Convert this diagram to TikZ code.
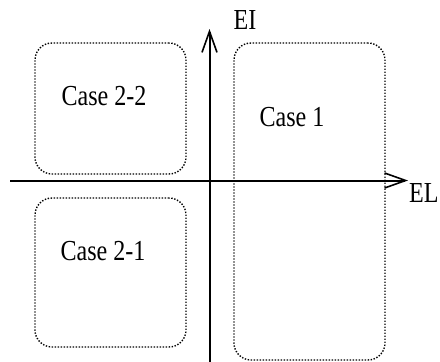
\documentclass[tikz,border=0pt]{standalone}
\usepackage{fontspec}
\setmainfont{Liberation Serif}
\usetikzlibrary{arrows.meta}
\newcommand{\slim}[1]{\scalebox{0.83}[1]{#1}}

\begin{document}
\begin{tikzpicture}[%
  x=1pt, y=-1pt,
  casebox/.style={draw, line width=1.4pt, dash pattern=on 1.4pt off 1.6pt,
    rounded corners=17pt, inner sep=0pt, minimum width=151pt},
  axis/.style={line width=2pt, -{Straight Barb[length=21pt,width=15pt,line width=1.6pt]}},
  clabel/.style={font=\fontsize{29}{32}\selectfont, inner sep=0pt}]
\useasboundingbox (0,0) rectangle (440,362);
% regions
\node[casebox, minimum height=131pt] (case22) at (110.5,108.5) {};
\node[casebox, minimum height=149pt] (case21) at (110.5,272.5) {};
\node[casebox, minimum height=317pt] (case1) at (309.5,201.5) {};
\node[clabel] (t22) at (104,96) {\slim{Case 2-2}};
\node[clabel] (t21) at (103,251) {\slim{Case 2-1}};
\node[clabel] (t1) at (292,117) {\slim{Case 1}};
% axes
\coordinate (elstart) at (10,180.5);
\coordinate (elend) at (408,180.5);
\coordinate (eistart) at (209.5,362);
\coordinate (eiend) at (209.5,29);
\draw[axis] (elstart) -- (elend);
\draw[axis] (eistart) -- (eiend);
\node[clabel, anchor=west] (el) at (409,193) {\slim{EL}};
\node[clabel] (ei) at (245,20) {\slim{EI}};
\end{tikzpicture}
\end{document}
